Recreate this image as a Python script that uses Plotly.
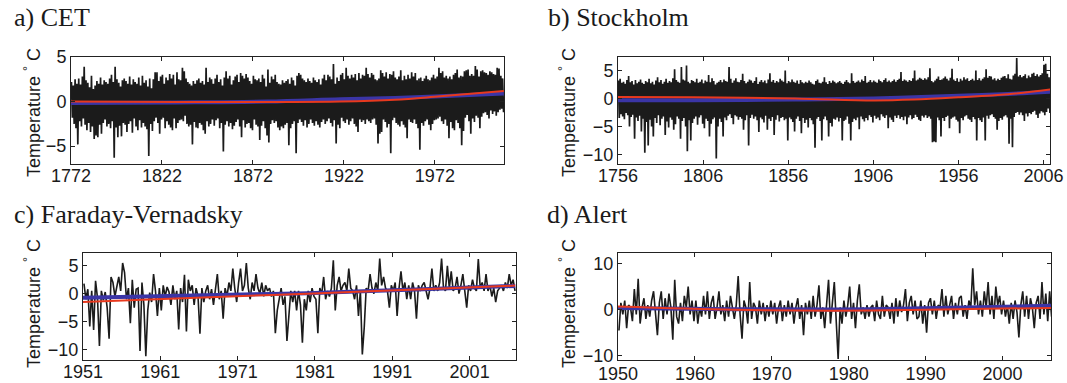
import plotly.graph_objects as go

# ---------------- data ----------------
# a) CET: yearly upper / lower excursions of the monthly anomaly trace, 1772-2009
cet_start = 1772
cet_high = [
    2.2, 1.8, 2.5, 2.0, 2.6, 1.9, 2.8, 3.9, 2.4, 2.1,
    1.6, 2.9, 1.4, 1.8, 2.3, 2.0, 2.7, 1.9, 2.4, 2.2,
    2.0, 2.6, 3.0, 2.2, 3.9, 2.5, 2.1, 1.7, 2.4, 2.6,
    2.3, 2.0, 2.8, 1.9, 2.5, 2.2, 2.0, 2.7, 1.8, 2.9,
    2.1, 2.4, 1.7, 2.6, 1.5, 2.5, 3.3, 3.3, 2.3, 2.8,
    3.0, 2.0, 2.7, 2.4, 3.1, 2.6, 3.0, 1.9, 3.3, 2.5,
    2.4, 3.8, 3.4, 2.6, 2.2, 2.0, 1.8, 2.3, 2.0, 2.4,
    2.6, 2.1, 2.3, 1.9, 3.8, 2.2, 2.7, 2.5, 2.0, 2.6,
    3.0, 2.2, 2.5, 1.8, 2.7, 3.4, 2.6, 2.9, 1.9, 2.4,
    2.8, 3.0, 2.2, 3.2, 2.9, 2.6, 3.1, 2.7, 2.3, 2.0,
    2.9, 2.5, 2.4, 2.6, 2.2, 3.0, 2.6, 1.7, 3.6, 2.1,
    2.8, 2.5, 3.0, 2.2, 2.0, 1.9, 2.4, 2.1, 2.3, 2.5,
    2.0, 2.7, 2.4, 1.8, 2.9, 3.2, 3.0, 2.6, 2.4, 2.2,
    2.6, 2.3, 2.1, 2.7, 2.4, 2.2, 2.5, 1.9, 2.6, 3.0,
    2.4, 3.0, 2.8, 2.5, 4.2, 2.0, 2.7, 2.3, 3.0, 3.2,
    2.5, 3.8, 2.9, 2.6, 3.0, 2.7, 3.1, 2.4, 3.2, 2.6,
    3.0, 2.9, 3.8, 3.1, 2.7, 3.2, 3.0, 2.5, 2.4, 2.6,
    3.5, 3.2, 2.8, 3.3, 2.6, 3.1, 3.0, 3.4, 2.7, 2.5,
    2.8, 3.5, 2.4, 2.9, 2.5, 3.0, 2.6, 3.3, 2.8, 3.2,
    2.4, 2.6, 2.7, 2.3, 2.6, 2.9, 2.5, 2.4, 2.7, 3.0,
    2.6, 2.8, 3.8, 3.2, 3.4, 2.7, 2.9, 2.6, 2.8, 2.5,
    3.0, 3.2, 3.6, 2.7, 2.9, 2.8, 3.4, 3.5, 3.6, 2.9,
    3.1, 2.9, 4.0, 3.6, 2.8, 3.4, 3.5, 3.3, 3.2, 3.0,
    3.4, 3.3, 3.1, 3.0, 3.8, 3.7, 2.9, 2.6,
]
cet_low = [
    -1.8, -2.5, -3.0, -4.8, -2.2, -2.8, -1.9, -2.6, -3.2, -2.4,
    -3.4, -2.8, -4.2, -3.8, -4.0, -2.6, -3.6, -2.4, -2.0, -2.8,
    -2.5, -3.0, -2.2, -6.3, -2.9, -4.0, -2.7, -3.9, -2.4, -2.6,
    -3.4, -2.5, -2.2, -3.5, -1.9, -2.8, -3.2, -2.1, -2.9, -2.4,
    -2.8, -3.1, -6.1, -2.5, -3.3, -2.2, -1.8, -2.4, -3.6, -2.0,
    -1.8, -3.0, -2.2, -2.6, -2.9, -3.2, -1.9, -3.0, -2.4, -2.1,
    -2.0, -2.2, -1.6, -2.5, -2.8, -2.6, -4.8, -2.3, -2.9, -3.0,
    -2.4, -2.6, -3.2, -3.6, -2.2, -2.8, -2.5, -2.0, -2.7, -2.1,
    -1.9, -3.0, -2.4, -5.6, -2.6, -2.2, -2.8, -2.4, -3.1, -2.7,
    -2.3, -2.0, -2.8, -4.0, -2.1, -2.9, -2.5, -2.4, -3.0, -3.2,
    -2.0, -2.6, -2.8, -4.3, -2.7, -2.2, -3.0, -3.8, -4.6, -2.5,
    -2.1, -2.4, -2.2, -2.9, -3.2, -2.8, -3.0, -2.6, -2.4, -4.9,
    -3.0, -2.5, -2.2, -5.8, -2.4, -2.0, -2.3, -2.7, -2.1, -2.9,
    -2.5, -2.0, -2.4, -2.7, -2.2, -2.6, -2.9, -2.3, -2.0, -2.5,
    -2.2, -1.9, -2.4, -2.8, -2.1, -4.7, -2.6, -3.0, -1.8, -2.2,
    -2.4, -2.0, -2.6, -2.2, -1.9, -2.5, -2.8, -3.4, -2.0, -2.3,
    -2.1, -2.5, -2.0, -2.2, -2.4, -2.0, -1.9, -2.6, -4.7, -3.6,
    -3.4, -2.0, -2.3, -2.9, -2.5, -5.8, -2.1, -1.8, -2.4, -2.6,
    -2.8, -2.2, -2.6, -2.9, -4.1, -2.0, -2.3, -2.4, -2.0, -2.5,
    -3.0, -5.4, -2.4, -2.7, -2.2, -2.0, -2.6, -3.2, -2.5, -2.1,
    -2.0, -1.9, -1.7, -2.2, -2.5, -2.0, -2.7, -4.1, -2.3, -3.0,
    -3.2, -2.1, -2.4, -3.0, -4.9, -3.3, -1.8, -1.5, -2.2, -3.6,
    -1.9, -2.3, -1.6, -1.8, -3.0, -1.7, -1.3, -1.2, -1.5, -1.9,
    -1.0, -1.4, -1.1, -1.6, -1.2, -0.9, -0.8, -1.2,
]
cet_trend_years = [1772, 1830, 1880, 1920, 1950, 1975, 2009.9]
cet_red = [0.0, -0.05, -0.05, 0.0, 0.2, 0.6, 1.2]
cet_blue = [-0.15, -0.1, 0.0, 0.25, 0.4, 0.6, 0.9]

# b) Stockholm: yearly upper / lower excursions, 1756-2009
sto_start = 1756
sto_high = [
    3.2, 3.5, 2.8, 3.0, 2.6, 3.3, 4.0, 2.9, 3.1, 2.5,
    3.3, 2.7, 3.0, 3.4, 2.8, 2.6, 3.1, 2.9, 3.5, 2.7,
    3.0, 2.5, 3.2, 3.8, 2.9, 3.3, 2.6, 3.0, 3.5, 2.8,
    3.1, 2.9, 3.6, 5.2, 3.3, 3.0, 2.8, 5.6, 3.4, 3.2,
    5.9, 3.0, 2.7, 3.3, 3.1, 2.9, 3.5, 2.8, 3.0, 3.4,
    2.7, 3.2, 3.0, 4.2, 2.9, 3.6, 3.1, 2.5, 2.8, 3.0,
    3.3, 2.9, 3.4, 3.1, 3.0, 5.6, 3.5, 2.8, 3.2, 3.6,
    3.0, 2.9, 3.3, 4.4, 3.1, 2.7, 3.0, 3.4, 3.2, 2.8,
    3.1, 3.8, 2.6, 3.0, 3.3, 2.9, 3.2, 2.7, 3.4, 4.5,
    3.0, 3.3, 2.8, 3.1, 2.9, 3.5, 3.2, 3.0, 5.0, 2.7,
    3.1, 2.9, 3.4, 3.0, 2.8, 3.2, 2.6, 3.3, 2.9, 2.7,
    3.0, 2.8, 3.2, 2.9, 2.6, 2.5, 3.1, 3.4, 2.8, 2.7,
    3.0, 3.8, 2.9, 2.6, 3.1, 2.8, 3.2, 3.0, 2.7, 2.9,
    3.1, 2.8, 2.6, 3.0, 3.3, 2.9, 2.7, 4.5, 3.1, 2.8,
    3.0, 3.2, 2.9, 3.4, 3.1, 4.0, 2.8, 3.0, 3.3, 2.9,
    3.2, 3.0, 2.8, 3.4, 3.1, 2.9, 3.3, 3.6, 3.0, 3.2,
    2.9, 3.1, 3.4, 3.0, 3.3, 3.5, 4.7, 3.1, 3.4, 3.2,
    3.0, 3.3, 3.1, 3.6, 5.0, 3.2, 3.4, 3.7, 3.5, 3.3,
    3.6, 3.4, 3.8, 5.4, 3.1, 2.9, 3.2, 3.5, 3.9, 3.3,
    3.4, 3.6, 3.9, 3.5, 3.2, 3.7, 5.3, 3.4, 3.1, 3.6,
    3.0, 3.5, 3.2, 3.8, 3.4, 3.6, 3.1, 3.3, 3.5, 3.2,
    5.0, 3.3, 3.6, 3.2, 3.5, 3.8, 5.2, 3.7, 4.0, 3.9,
    3.4, 3.6, 3.2, 3.5, 3.3, 3.7, 3.9, 4.0, 3.6, 4.3,
    3.5, 3.4, 4.1, 4.4, 7.2, 3.9, 4.2, 3.8, 4.0, 4.3,
    3.6, 4.1, 3.8, 4.4, 4.6, 4.0, 4.3, 3.9, 4.2, 4.5,
    6.0, 6.2, 4.4, 3.8,
]
sto_low = [
    -3.5, -2.8, -3.2, -3.7, -2.6, -3.0, -5.0, -3.3, -2.9, -7.2,
    -3.4, -4.0, -3.1, -5.9, -3.6, -9.7, -4.2, -8.4, -3.8, -5.0,
    -6.8, -3.5, -4.4, -3.0, -4.8, -3.6, -3.2, -6.5, -4.1, -5.2,
    -3.4, -3.8, -5.6, -4.6, -3.2, -3.6, -7.2, -4.0, -3.5, -5.0,
    -9.4, -3.9, -7.5, -4.4, -3.6, -3.2, -4.7, -3.4, -3.0, -4.5,
    -5.3, -3.6, -4.0, -6.8, -4.5, -3.7, -3.4, -10.7, -5.0, -3.6,
    -4.2, -6.8, -3.4, -3.9, -3.1, -2.8, -3.5, -4.6, -3.0, -3.2,
    -3.8, -3.3, -3.6, -5.6, -3.9, -3.0, -8.4, -3.5, -2.9, -3.6,
    -3.2, -3.9, -6.0, -3.4, -3.7, -4.3, -3.1, -5.6, -3.6, -4.0,
    -3.3, -6.5, -3.8, -3.0, -4.1, -3.5, -3.3, -3.9, -3.6, -7.5,
    -3.4, -3.7, -4.2, -5.9, -3.6, -3.2, -4.0, -6.2, -3.5, -4.4,
    -3.8, -5.2, -3.5, -3.9, -4.6, -8.8, -3.6, -3.3, -4.0, -7.5,
    -3.7, -3.2, -3.9, -6.8, -4.4, -5.0, -3.6, -3.8, -3.4, -4.1,
    -3.5, -7.5, -4.0, -3.8, -3.2, -4.5, -7.5, -4.2, -3.6, -3.9,
    -3.4, -5.5, -3.2, -3.7, -4.1, -3.5, -3.9, -3.0, -3.3, -4.3,
    -3.1, -3.6, -3.4, -3.9, -2.8, -3.2, -3.5, -3.0, -5.3, -3.4,
    -3.8, -4.2, -3.1, -3.5, -3.0, -3.6, -3.3, -3.9, -3.2, -4.6,
    -3.4, -3.0, -3.7, -3.5, -2.9, -3.3, -3.8, -4.0, -3.1, -3.4,
    -3.0, -3.5, -3.2, -3.6, -7.8, -7.7, -7.8, -3.4, -3.9, -6.8,
    -3.5, -4.0, -3.3, -3.1, -5.3, -3.6, -3.4, -3.2, -3.8, -4.1,
    -6.2, -3.5, -3.9, -3.2, -3.0, -3.6, -3.8, -4.2, -3.3, -3.7,
    -7.5, -3.5, -3.9, -4.2, -3.4, -7.5, -3.1, -3.6, -3.0, -2.8,
    -3.3, -3.6, -5.6, -4.0, -3.5, -3.8, -3.2, -3.0, -3.4, -8.1,
    -3.6, -8.7, -3.3, -2.6, -2.4, -2.9, -2.5, -3.0, -4.0, -2.7,
    -3.2, -2.6, -2.8, -2.4, -2.2, -2.9, -3.5, -2.7, -2.3, -2.5,
    -3.0, -2.4, -1.8, -2.6,
]
sto_trend_years = [1756, 1800, 1860, 1906, 1930, 1956, 1985, 2009.9]
sto_red = [0.25, 0.2, 0.0, -0.35, -0.2, 0.2, 0.75, 1.6]
sto_blue = [-0.3, -0.3, -0.2, 0.0, 0.2, 0.5, 0.8, 1.2]

# c) Faraday-Vernadsky: quarterly samples of the anomaly trace, 1951-2006
far_start = 1951
far_values = [
    1.8, -1.0, 0.8, -5.9,   0.5, -6.5, 2.3, -0.8,   -9.4, 0.5, -1.2, 0.3,
    -2.5, -8.1, 3.0, 2.0,   -0.5, 1.5, 3.0, 0.5,    5.5, 3.8, -1.0, 1.0,
    -5.3, 2.5, -2.5, 0.8,   1.0, -10.3, 2.0, -2.0,  -11.2, -3.0, 0.2, -1.5,
    3.5, 0.5, -4.0, 1.0,    -3.0, 1.5, -0.5, 1.2,   0.3, -2.0, 1.5, -1.0,
    0.5, -6.4, 1.0, -1.5,   3.4, -6.8, 2.5, 0.5,    1.5, -2.0, 1.0, -0.5,
    -7.2, 1.0, -1.5, 0.5,   1.5, -1.0, 0.8, -2.0,   1.0, 3.5, -1.0, 0.5,
    -4.5, 1.0, -0.5, 2.0,   0.5, 4.5, 1.0, -1.5,    2.0, 4.5, 0.5, 1.5,
    5.5, 1.0, -1.0, 2.0,    0.5, 3.5, 1.0, 0.0,     2.0, -0.5, 1.5, 0.5,
    1.0, -0.5, 0.5, -7.1,   -3.0, -1.0, 1.0, -2.0,  -0.5, -8.5, -3.0, 0.5,
    -1.5, 0.5, -3.0, 0.5,   -2.0, -8.8, -1.0, -3.0, 0.5, -1.5, 1.0, -0.5,
    -1.0, -7.1, 1.0, 0.0,   3.0, -1.0, 0.5, -0.5,   1.0, 6.0, -3.0, 1.5,
    3.0, 0.5, 1.5, 2.0,     0.5, 4.5, 1.0, 0.5,     -1.0, 1.5, -4.0, 0.5,
    -10.9, -6.0, 1.0, 0.5,  3.5, 1.0, 0.0, 2.0,     0.5, 6.3, 1.5, 3.0,
    1.0, 0.5, -2.5, 1.5,    0.5, 2.0, -4.0, 1.0,    4.0, 0.5, 2.0, -1.0,
    1.5, -1.0, 2.0, 0.5,    -4.5, 1.5, 0.5, 1.5,    2.0, 0.5, -1.0, 1.0,
    4.5, 0.5, 1.5, 0.5,     2.0, 6.3, 1.0, 0.5,     5.0, 1.0, 4.0, 0.5,
    1.0, 3.0, 0.0, 1.5,     3.5, 0.5, -2.5, 1.5,    0.5, 2.5, 1.0, 0.5,
    6.2, 1.0, 2.0, 0.5,     3.5, 0.5, 1.5, -0.5,    1.0, -1.5, 0.5, 1.0,
    1.5, 0.5, 2.0, 1.0,     3.5, 1.5, 2.5, 0.5,
]
far_trend_years = [1951, 1970, 1980, 1995, 2006.9]
far_red = [-1.5, -0.5, 0.0, 0.8, 1.45]
far_blue = [-0.75, -0.2, 0.1, 0.8, 1.4]

# d) Alert: quarterly samples of the anomaly trace, 1950-2006
alert_start = 1950
alert_values = [
    -4.5, 1.5, -1.0, 2.0,   -4.0, 1.0, 0.5, -2.5,   4.5, -1.0, 6.7, -3.0,
    0.5, 2.5, -2.0, 1.0,    -1.5, 2.0, 4.0, -1.0,   -5.5, 1.5, 4.0, -2.0,
    2.5, -1.0, 3.5, 0.5,    -6.5, 6.5, -1.5, -3.0,  1.5, -2.5, 3.0, 0.5,
    5.0, -1.0, 2.0, -2.5,   2.0, -3.0, 0.5, -1.5,   3.0, -1.0, 4.0, -2.0,
    1.5, 3.0, -2.0, 0.5,    4.0, -1.0, 1.0, -2.5,   2.0, -1.5, 3.0, 0.5,
    -2.0, 1.0, 7.3, -1.0,   -6.3, 2.0, 0.5, -3.0,   6.0, -2.0, 1.5, 0.5,
    -3.0, 2.0, -1.0, 1.5,   -2.5, 1.0, -1.5, 2.0,   -1.0, 1.5, -3.0, 0.5,
    2.0, -2.5, 1.0, -1.5,   2.0, -1.0, 1.5, -3.0,   0.5, 2.5, -2.0, 1.0,
    -5.5, 1.5, -1.0, 2.0,   -2.0, 3.0, -1.5, 1.0,   5.3, -2.0, 0.5, -4.0,
    2.0, 6.5, -3.0, 1.0,    6.0, -2.5, -10.7, 0.5,  -3.0, 2.0, -1.5, 1.0,
    5.0, -2.0, 1.5, -4.0,   2.0, 5.5, -1.0, 0.5,    -2.0, 1.0, -1.5, 0.5,
    1.0, -2.5, 2.0, -1.0,   -2.0, 3.0, -1.5, 1.0,   0.5, -2.0, 1.5, -3.0,
    2.5, -1.5, 2.0, -0.5,   1.0, 4.5, -2.5, 1.5,    3.0, -1.0, 2.0, -2.0,
    -1.5, 2.0, -3.0, 1.0,   -5.0, 1.5, 2.5, -1.0,   2.0, -2.0, 1.0, 0.5,
    4.5, -1.5, 3.0, -1.0,   1.0, 3.0, -2.0, 1.5,    -1.0, 2.5, 3.0, -1.5,
    1.0, -2.0, 2.0, 0.5,    9.0, 1.0, 4.0, -1.0,    2.0, -1.5, 4.0, 0.5,
    6.0, -1.0, 3.0, -2.0,   5.0, 1.0, 3.0, -1.0,    2.0, -1.5, 1.0, -3.0,
    1.5, -2.0, 2.0, -0.5,   -6.0, 1.0, 4.0, -1.5,   3.0, -2.0, 2.5, 0.5,
    -4.0, 1.5, 3.0, -2.0,   6.0, -1.0, 3.5, -2.5,   4.0, -1.5,
]
alert_trend_years = [1950, 1965, 1978, 1990, 2006.3]
alert_red = [0.7, 0.0, -0.2, 0.0, 0.4]
alert_blue = [0.35, 0.1, 0.05, 0.3, 0.85]

# ---------------- helpers ----------------
def yearly_trace(start, high, low):
    xs, ys = [], []
    for i, (h, l) in enumerate(zip(high, low)):
        xs += [start + i + 0.25, start + i + 0.75]
        ys += [h, l]
    return xs, ys

def quarterly_trace(start, vals):
    return [start + i / 4 + 0.125 for i in range(len(vals))], vals

BLACK = "#1b1b1b"
RED = "#e8391e"
BLUE = "#3b35a6"
W, H = 1067, 383

panels = [
    dict(series=yearly_trace(cet_start, cet_high, cet_low), ty=cet_trend_years, red=cet_red, blue=cet_blue, lw=1.7,
         xr=[1772, 2010], yr=[-7, 5], xt=[1772, 1822, 1872, 1922, 1972], yt=[-5, 0, 5], xso=-5,
         box=(71, 504, 57, 164), title="a) CET", tpos=(12, 17), ylab=(32, 113)),
    dict(series=yearly_trace(sto_start, sto_high, sto_low), ty=sto_trend_years, red=sto_red, blue=sto_blue, lw=1.7,
         xr=[1756, 2009.8], yr=[-11.7, 7.4], xt=[1756, 1806, 1856, 1906, 1956, 2006], yt=[-10, -5, 0, 5], xso=-5,
         box=(618, 1050, 57, 164), title="b) Stockholm", tpos=(546, 17), ylab=(567, 113)),
    dict(series=quarterly_trace(far_start, far_values), ty=far_trend_years, red=far_red, blue=far_blue, lw=1.6,
         xr=[1951, 2007], yr=[-11.9, 7.3], xt=[1951, 1961, 1971, 1981, 1991, 2001], yt=[-10, -5, 0, 5], xso=-5,
         box=(83, 516, 253, 360), title="c) Faraday-Vernadsky", tpos=(12, 214), ylab=(32, 304)),
    dict(series=quarterly_trace(alert_start, alert_values), ty=alert_trend_years, red=alert_red, blue=alert_blue, lw=1.6,
         xr=[1950, 2006.3], yr=[-10.9, 12.3], xt=[1950, 1960, 1970, 1980, 1990, 2000], yt=[-10, 0, 10], xso=-3,
         box=(618, 1051, 253, 360), title="d) Alert", tpos=(545, 214), ylab=(567, 304)),
]

fig = go.Figure()
annotations = []
tickfont = dict(family="Liberation Sans, Arial, sans-serif", size=18, color="#1a1a1a")

for k, p in enumerate(panels, start=1):
    xa = "x" if k == 1 else f"x{k}"
    ya = "y" if k == 1 else f"y{k}"
    xs, ys = p["series"]
    fig.add_trace(go.Scatter(x=xs, y=ys, mode="lines", line=dict(color=BLACK, width=p["lw"]),
                             xaxis=xa, yaxis=ya, showlegend=False, hoverinfo="skip"))
    fig.add_trace(go.Scatter(x=p["ty"], y=p["blue"], mode="lines", line=dict(color=BLUE, width=4, shape="spline"),
                             xaxis=xa, yaxis=ya, showlegend=False))
    fig.add_trace(go.Scatter(x=p["ty"], y=p["red"], mode="lines", line=dict(color=RED, width=2, shape="spline"),
                             xaxis=xa, yaxis=ya, showlegend=False))
    x0, x1, y0, y1 = p["box"]
    axis_common = dict(showline=True, linecolor="#222", linewidth=1, mirror="ticks", ticks="inside",
                       ticklen=4, tickcolor="#222", showgrid=False, zeroline=False, tickfont=tickfont)
    xkey = "xaxis" if k == 1 else f"xaxis{k}"
    ykey = "yaxis" if k == 1 else f"yaxis{k}"
    fig.update_layout(**{
        xkey: dict(domain=[x0 / W, x1 / W], range=p["xr"], tickvals=p["xt"], anchor=ya,
                   ticklabelstandoff=p["xso"], **axis_common),
        ykey: dict(domain=[1 - y1 / H, 1 - y0 / H], range=p["yr"], tickvals=p["yt"], anchor=xa, **axis_common),
    })
    annotations.append(dict(text=p["title"], x=p["tpos"][0] / W, y=1 - p["tpos"][1] / H, xref="paper", yref="paper",
                            xanchor="left", yanchor="middle", showarrow=False,
                            font=dict(family="Liberation Serif, Times New Roman, serif", size=26, color="#1a1a1a")))
    annotations.append(dict(text="Temperature <sup>°</sup> C", x=p["ylab"][0] / W, y=1 - p["ylab"][1] / H,
                            xref="paper", yref="paper", xanchor="center", yanchor="middle", textangle=-90,
                            showarrow=False, font=tickfont))

fig.update_layout(width=W, height=H, margin=dict(l=0, r=0, t=0, b=0, autoexpand=False), paper_bgcolor="white",
                  plot_bgcolor="white", annotations=annotations)
fig.write_html("out.html")
